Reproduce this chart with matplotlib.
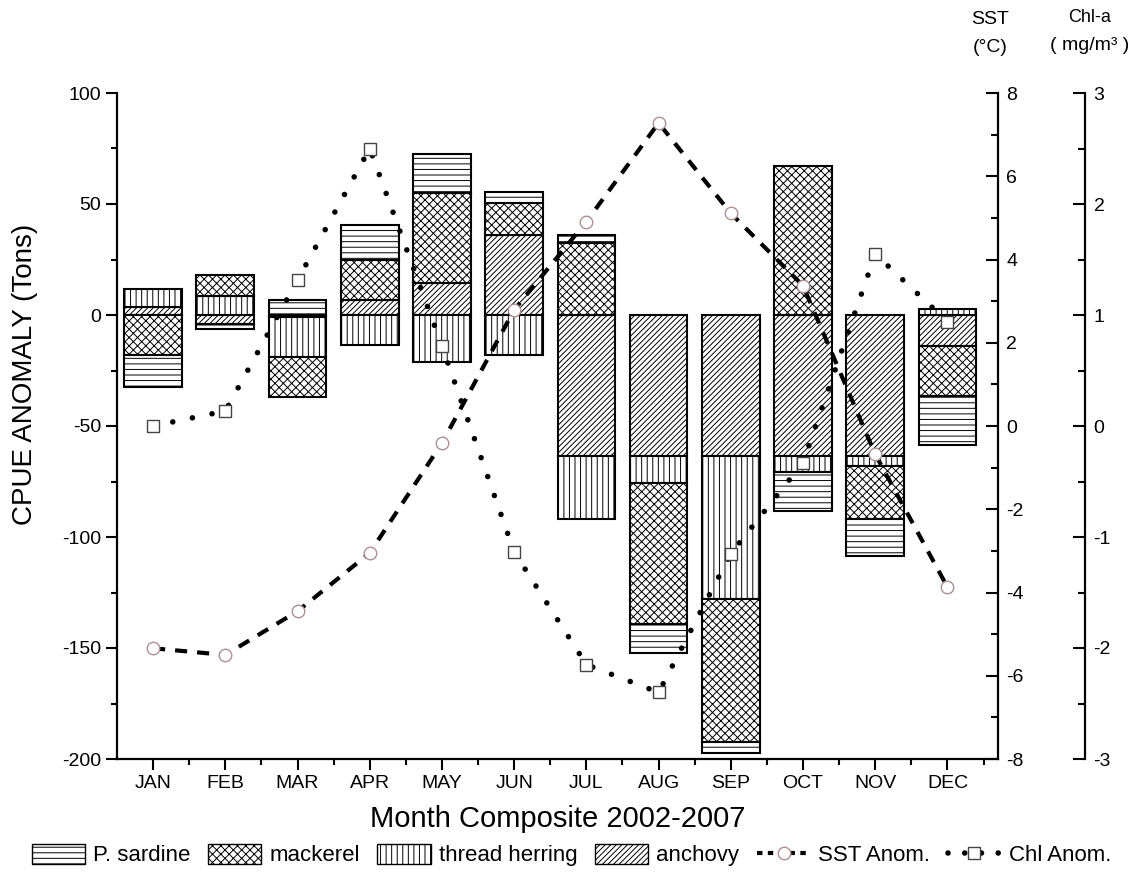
import matplotlib
matplotlib.use("Agg")
import matplotlib.pyplot as plt
import numpy as np
from matplotlib.patches import Patch
from matplotlib.lines import Line2D
from matplotlib.ticker import MultipleLocator

plt.rcParams["font.family"] = ["Liberation Sans", "DejaVu Sans"]
plt.rcParams["hatch.linewidth"] = 0.7
plt.rcParams["axes.unicode_minus"] = False

months = ["JAN", "FEB", "MAR", "APR", "MAY", "JUN", "JUL", "AUG", "SEP", "OCT", "NOV", "DEC"]

# CPUE anomaly (tons) per species
sardine = [-14.5, -2.4, 6.8, 15.9, 17.7, 5.2, 3.5, -12.9, -4.9, -17.4, -16.7, -22.1]
mackerel = [-18.0, 9.6, -17.8, 18.2, 40.5, 14.3, 32.4, -63.9, -64.2, 66.9, -24.1, -22.3]
herring = [8.0, 8.6, -18.0, -13.4, -21.3, -17.9, -28.0, -11.8, -64.3, -7.0, -4.2, 2.6]
anchovy = [3.7, -4.0, -1.0, 6.6, 14.3, 36.0, -63.7, -63.7, -63.7, -63.7, -63.7, -14.1]

sst_anom = [-5.34, -5.5, -4.45, -3.05, -0.41, 2.79, 4.91, 7.28, 5.11, 3.37, -0.68, -3.87]
chl_anom = [0.0, 0.135, 1.315, 2.50, 0.72, -1.135, -2.15, -2.40, -1.15, -0.33, 1.55, 0.94]

fig = plt.figure(figsize=(11.43, 8.76), dpi=100)
ax = fig.add_axes([117 / 1143, 1 - 759 / 876, 881 / 1143, 666 / 876])

x = np.arange(1, 13)
stack = [(anchovy, "//////"), (herring, "|||"), (mackerel, "xxxx"), (sardine, "---")]
pos = np.zeros(12)
neg = np.zeros(12)
for vals, hatch in stack:
    v = np.array(vals)
    bottom = np.where(v >= 0, pos, neg)
    ax.bar(x, v, 0.8, bottom=bottom, facecolor="white", edgecolor="black",
           hatch=hatch, linewidth=1.5, zorder=2)
    pos += np.clip(v, 0, None)
    neg += np.clip(v, None, 0)

ax.set_xlim(0.5, 12.7)
ax.set_ylim(-200, 100)
ax.set_xticks(x)
ax.set_xticklabels(months)
ax.set_xticks(x + 0.5, minor=True)
ax.yaxis.set_major_locator(MultipleLocator(50))
ax.yaxis.set_minor_locator(MultipleLocator(25))
ax.tick_params(which="major", direction="out", length=8, width=1.5, labelsize=14)
ax.tick_params(which="minor", direction="out", length=4, width=1.5)
for s in ["top", "right"]:
    ax.spines[s].set_visible(False)
for s in ["left", "bottom"]:
    ax.spines[s].set_linewidth(1.6)
ax.set_ylabel("CPUE ANOMALY (Tons)", fontsize=20)
ax.yaxis.set_label_coords(-0.09, 0.577)
ax.set_xlabel("Month Composite 2002-2007", fontsize=21)
ax.xaxis.set_label_coords(0.5, -0.069)

# SST axis
ax2 = ax.twinx()
ax2.set_ylim(-8, 8)
for s in ["top", "left", "bottom"]:
    ax2.spines[s].set_visible(False)
ax2.spines["right"].set_linewidth(1.6)
ax2.yaxis.set_major_locator(MultipleLocator(2))
ax2.yaxis.set_minor_locator(MultipleLocator(1))
ax2.tick_params(which="major", direction="in", length=9, width=1.5, labelsize=14, pad=6)
ax2.tick_params(which="minor", direction="in", length=5, width=1.5)
ax2.plot(x, sst_anom, color="black", lw=3, linestyle=(0, (2.9, 2.4)),
         marker="o", ms=9, mfc="white", mec="#b09090", mew=1, zorder=3)

# Chl axis
ax3 = ax.twinx()
ax3.set_ylim(-3, 3)
for s in ["top", "left", "bottom"]:
    ax3.spines[s].set_visible(False)
ax3.spines["right"].set_position(("axes", 1.099))
ax3.spines["right"].set_linewidth(1.6)
ax3.yaxis.set_major_locator(MultipleLocator(1))
ax3.yaxis.set_minor_locator(MultipleLocator(0.5))
ax3.tick_params(which="major", direction="in", length=9, width=1.5, labelsize=14, pad=6)
ax3.tick_params(which="minor", direction="in", length=5, width=1.5)
ax3.plot(x, chl_anom, color="black", lw=4, linestyle=(0, (0.01, 3.6)),
         dash_capstyle="round", marker="s", ms=8, mfc="white", mec="#444444",
         mew=1, zorder=3)

fig.text(990 / 1143, 1 - 20 / 876, "SST", ha="center", va="center", fontsize=14)
fig.text(990 / 1143, 1 - 48 / 876, "(°C)", ha="center", va="center", fontsize=14)
fig.text(1090 / 1143, 1 - 18 / 876, "Chl-a", ha="center", va="center", fontsize=13)
fig.text(1090 / 1143, 1 - 46 / 876, "( mg/m³ )", ha="center", va="center", fontsize=14)

handles = [
    Patch(facecolor="white", edgecolor="black", hatch="---", lw=1),
    Patch(facecolor="white", edgecolor="black", hatch="xxxx", lw=1),
    Patch(facecolor="white", edgecolor="black", hatch="|||", lw=1),
    Patch(facecolor="white", edgecolor="black", hatch="//////", lw=1),
    Line2D([], [], color="black", lw=3, linestyle=(0, (1.3, 1.3)), marker="o",
           ms=9, mfc="white", mec="#b09090", mew=1),
    Line2D([], [], color="black", lw=4, linestyle=(0, (0.01, 3.0)),
           dash_capstyle="round", marker="s", ms=8, mfc="white", mec="#444444", mew=1),
]
labels = ["P. sardine", "mackerel", "thread herring", "anchovy", "SST Anom.", "Chl Anom."]
fig.legend(handles, labels, loc="center", bbox_to_anchor=(0.5, 1 - 855 / 876), ncol=6,
           frameon=False, fontsize=16, handlelength=2.4, handleheight=1.0,
           handletextpad=0.35, columnspacing=0.8)

fig.savefig("out.png", dpi=100)
